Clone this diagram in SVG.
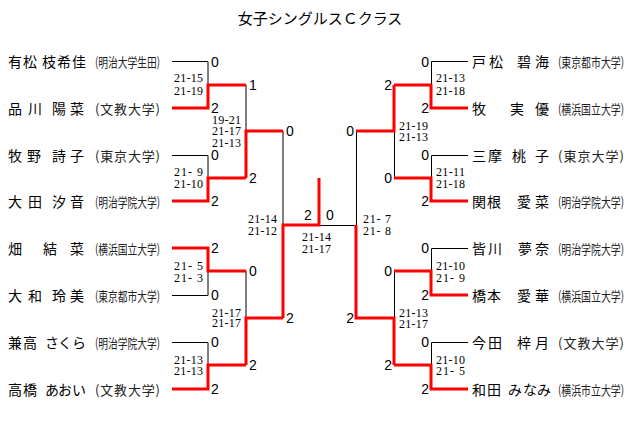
<svg xmlns="http://www.w3.org/2000/svg" width="640" height="429" viewBox="0 0 640 429">
<style>
.bg{fill:#fff}
.title{font-family:"Noto Sans CJK JP","Noto Sans",sans-serif;font-size:15px;fill:#000}
.nm{font-family:"Noto Sans CJK JP","Noto Sans",sans-serif;font-size:14px;fill:#000}
.un{font-family:"Noto Sans CJK JP","Noto Sans",sans-serif;font-size:13px;fill:#222}
.ln{fill:none;stroke:#000;stroke-width:1}
.win{fill:none;stroke:#ff0000;stroke-width:3;stroke-linejoin:miter;stroke-linecap:butt}
.pt{font-family:"Liberation Sans",Arial,sans-serif;font-size:14px;fill:#000}
.sc{font-family:"Liberation Serif","Times New Roman",serif;font-size:12px;fill:#000}
.r{text-anchor:end}
</style>
<rect class="bg" x="0" y="0" width="640" height="429"/>
<text id="title" class="title" x="320" y="24" text-anchor="middle">女子シングルスＣクラス</text>

<g id="connectors">
<path class="ln" d="M172,61.5H208V85M172,155.5H208V178M246,85V131M172,295.5H208V271M172,342.5H208V365M246,271V318M283,131V225M319,225.5H356.5M356.5,131V225"/>
<path class="ln" d="M468,61.5H431.5V85M468,155.5H431.5V178M394.5,131V178M468,248.5H431.5V271M468,342.5H431.5V365M394.5,271V318"/>
<path class="win" d="M172,108H208V85H246"/>
<path class="win" d="M172,201H208V178H246"/>
<path class="win" d="M246,178V131H283"/>
<path class="win" d="M172,248H208V271H246"/>
<path class="win" d="M172,389H208V365H246"/>
<path class="win" d="M246,365V318H283"/>
<path class="win" d="M283,318V225H319V178"/>
<path class="win" d="M468,108H431V85H394"/>
<path class="win" d="M468,201H431V178H394"/>
<path class="win" d="M394,85V131H356"/>
<path class="win" d="M468,295H431V271H394"/>
<path class="win" d="M468,389H431V365H394"/>
<path class="win" d="M394,365V318H356V225"/>
</g>

<g id="L1"><text class="nm" x="8 23 42 57 72" y="67">有松枝希佳</text><text class="un" x="95" y="67" textLength="65" lengthAdjust="spacingAndGlyphs">(明治大学生田)</text></g>
<g id="L2"><text class="nm" x="8 28 52 70" y="114">品川陽菜</text><text class="un" x="95" y="114" textLength="65" lengthAdjust="spacing">(文教大学)</text></g>
<g id="L3"><text class="nm" x="8 27 52 70" y="161">牧野詩子</text><text class="un" x="95" y="161" textLength="65" lengthAdjust="spacing">(東京大学)</text></g>
<g id="L4"><text class="nm" x="8 28 52 70" y="207">大田汐音</text><text class="un" x="95" y="207" textLength="65" lengthAdjust="spacingAndGlyphs">(明治学院大学)</text></g>
<g id="L5"><text class="nm" x="8 43 70" y="254">畑結菜</text><text class="un" x="95" y="254" textLength="65" lengthAdjust="spacingAndGlyphs">(横浜国立大学)</text></g>
<g id="L6"><text class="nm" x="8 28 52 70" y="301">大和玲美</text><text class="un" x="95" y="301" textLength="65" lengthAdjust="spacingAndGlyphs">(東京都市大学)</text></g>
<g id="L7"><text class="nm" x="8 23 45 58 72" y="348">兼高さくら</text><text class="un" x="95" y="348" textLength="65" lengthAdjust="spacingAndGlyphs">(明治学院大学)</text></g>
<g id="L8"><text class="nm" x="8 23 45 58 72" y="395">高橋あおい</text><text class="un" x="95" y="395" textLength="65" lengthAdjust="spacing">(文教大学)</text></g>

<g id="R1"><text class="nm" x="472 489 517 535" y="67">戸松碧海</text><text class="un" x="558" y="67" textLength="66" lengthAdjust="spacingAndGlyphs">(東京都市大学)</text></g>
<g id="R2"><text class="nm" x="472 510 535" y="114">牧実優</text><text class="un" x="558" y="114" textLength="66" lengthAdjust="spacingAndGlyphs">(横浜国立大学)</text></g>
<g id="R3"><text class="nm" x="472 488 512 535" y="161">三摩桃子</text><text class="un" x="558" y="161" textLength="66" lengthAdjust="spacing">(東京大学)</text></g>
<g id="R4"><text class="nm" x="472 487 517 535" y="207">関根愛菜</text><text class="un" x="558" y="207" textLength="66" lengthAdjust="spacingAndGlyphs">(明治学院大学)</text></g>
<g id="R5"><text class="nm" x="472 488 518 535" y="254">皆川夢奈</text><text class="un" x="558" y="254" textLength="66" lengthAdjust="spacingAndGlyphs">(明治学院大学)</text></g>
<g id="R6"><text class="nm" x="472 487 517 535" y="301">橋本愛華</text><text class="un" x="558" y="301" textLength="66" lengthAdjust="spacingAndGlyphs">(横浜国立大学)</text></g>
<g id="R7"><text class="nm" x="472 488 517 535" y="348">今田梓月</text><text class="un" x="558" y="348" textLength="66" lengthAdjust="spacing">(文教大学)</text></g>
<g id="R8"><text class="nm" x="472 487 508 523 537" y="395">和田みなみ</text><text class="un" x="558" y="395" textLength="66" lengthAdjust="spacingAndGlyphs">(横浜市立大学)</text></g>

<g id="points">
<text class="pt" x="211" y="67">0</text><text class="pt" x="211" y="113">2</text>
<text class="pt" x="211" y="160">0</text><text class="pt" x="211" y="206">2</text>
<text class="pt" x="211" y="253">2</text><text class="pt" x="211" y="300">0</text>
<text class="pt" x="211" y="347">0</text><text class="pt" x="211" y="394">2</text>
<text class="pt" x="249" y="90">1</text><text class="pt" x="249" y="183">2</text>
<text class="pt" x="249" y="276">0</text><text class="pt" x="249" y="370">2</text>
<text class="pt" x="286" y="136">0</text><text class="pt" x="286" y="323">2</text>
<text class="pt" x="304" y="220">2</text><text class="pt" x="326" y="220">0</text>
<text class="pt r" x="354" y="136">0</text><text class="pt r" x="354" y="323">2</text>
<text class="pt r" x="392" y="90">2</text><text class="pt r" x="392" y="183">0</text>
<text class="pt r" x="392" y="276">0</text><text class="pt r" x="392" y="370">2</text>
<text class="pt r" x="429" y="67">0</text><text class="pt r" x="429" y="113">2</text>
<text class="pt r" x="429" y="160">0</text><text class="pt r" x="429" y="206">2</text>
<text class="pt r" x="429" y="253">0</text><text class="pt r" x="429" y="300">2</text>
<text class="pt r" x="429" y="347">0</text><text class="pt r" x="429" y="394">2</text>
</g>

<g id="scores">
<text class="sc" x="174" y="82" textLength="29">21-15</text><text class="sc" x="174" y="95" textLength="29">21-19</text>
<text class="sc" x="174" y="176" textLength="29">21- 9</text><text class="sc" x="174" y="188" textLength="29">21-10</text>
<text class="sc" x="174" y="270" textLength="29">21- 5</text><text class="sc" x="174" y="282" textLength="29">21- 3</text>
<text class="sc" x="174" y="364" textLength="29">21-13</text><text class="sc" x="174" y="375" textLength="29">21-13</text>
<text class="sc" x="212" y="124" textLength="29">19-21</text><text class="sc" x="212" y="135" textLength="29">21-17</text><text class="sc" x="212" y="147" textLength="29">21-13</text>
<text class="sc" x="212" y="317" textLength="29">21-17</text><text class="sc" x="212" y="327" textLength="29">21-17</text>
<text class="sc" x="248" y="223" textLength="29">21-14</text><text class="sc" x="248" y="235" textLength="29">21-12</text>
<text class="sc" x="302" y="241" textLength="29">21-14</text><text class="sc" x="302" y="253" textLength="29">21-17</text>
<text class="sc" x="363" y="223" textLength="28">21- 7</text><text class="sc" x="363" y="235" textLength="28">21- 8</text>
<text class="sc" x="399" y="130" textLength="29">21-19</text><text class="sc" x="399" y="141" textLength="29">21-13</text>
<text class="sc" x="399" y="317" textLength="29">21-13</text><text class="sc" x="399" y="328" textLength="29">21-17</text>
<text class="sc" x="436" y="82" textLength="29">21-13</text><text class="sc" x="436" y="95" textLength="29">21-18</text>
<text class="sc" x="436" y="176" textLength="29">21-11</text><text class="sc" x="436" y="188" textLength="29">21-18</text>
<text class="sc" x="436" y="270" textLength="29">21-10</text><text class="sc" x="436" y="282" textLength="29">21- 9</text>
<text class="sc" x="436" y="364" textLength="29">21-10</text><text class="sc" x="436" y="375" textLength="29">21- 5</text>
</g>
</svg>
